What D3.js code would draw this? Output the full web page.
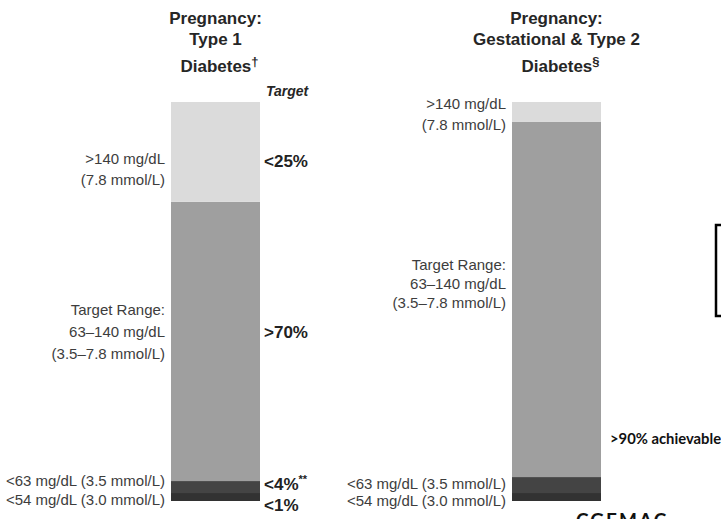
<!DOCTYPE html>
<head>
    <meta charset="utf-8">
</head>
<style>

    body {
      margin: 0;
      background: #fff;
      font-family: "Liberation Sans", Arial, sans-serif;
    }

    .title {
      font-size: 17px;
      font-weight: bold;
      fill: #262626;
      text-anchor: middle;
    }

    .band-label {
      font-size: 15px;
      fill: #3d3d3d;
      text-anchor: end;
    }

    .target {
      font-size: 17px;
      font-weight: bold;
      fill: #222;
    }

    .note {
      font-family: Lato, "Open Sans", sans-serif;
      font-size: 14.8px;
      font-weight: bold;
      fill: #111;
    }

</style>
<body>
<script src="https://d3js.org/d3.v7.min.js"></script>
<script>

    var width = 721,
        height = 519

    // the two stacked bars
    var bars = ["type1", "gestational"]
    var titles = [
        ["Pregnancy:", "Type 1", "Diabetes", "†"],
        ["Pregnancy:", "Gestational & Type 2", "Diabetes", "§"]
    ]

    // glucose bands, bottom to top
    var bands = ["<54", "54-63", "63-140", ">140"]
    var type1Values = [2, 3, 70, 25]
    var gestationalValues = [2, 4, 89, 5]

    // target column next to type 1 bar, bottom to top
    var type1Targets = ["<1%", "<4%", ">70%", "<25%"]

    var bandLabels = {
        high: [">140 mg/dL", "(7.8 mmol/L)"],
        range: ["Target Range:", "63–140 mg/dL", "(3.5–7.8 mmol/L)"],
        low: "<63 mg/dL (3.5 mmol/L)",
        veryLow: "<54 mg/dL (3.0 mmol/L)"
    }

    var x = d3.scaleBand()
        .domain(bars)
        .range([171, 601])
        .paddingInner(0.739)
        .paddingOuter(0)

    var y = d3.scaleLinear()
        .domain([0, 100])
        .range([501, 102])

    var color = d3.scaleOrdinal()
        .domain(bands)
        .range(["#323232", "#444444", "#9f9f9f", "#dbdbdb"])

    var svg = d3.select("body").append("svg")
        .attr("width", width)
        .attr("height", height)

    var stack = d3.stack().keys(bands)
    var rows = [type1Values, gestationalValues].map(function(v, i) {
        var row = {bar: bars[i]}
        bands.forEach(function(b, j) { row[b] = v[j] })
        return row
    })
    var series = stack(rows)

    // bars
    svg.append("g")
      .selectAll("g")
        .data(series)
      .enter().append("g")
        .attr("fill", function(d) { return color(d.key) })
      .selectAll("rect")
        .data(function(d) { return d })
      .enter().append("rect")
        .attr("x", function(d) { return x(d.data.bar) })
        .attr("width", x.bandwidth())
        .attr("y", function(d) { return y(d[1]) })
        .attr("height", function(d) { return y(d[0]) - y(d[1]) })

    // titles
    var titleBaselines = [24, 45, 72]
    bars.forEach(function(b, i) {
        var cx = x(b) + x.bandwidth() / 2
        var t = titles[i]
        svg.append("text").attr("class", "title").attr("x", cx).attr("y", titleBaselines[0]).text(t[0])
        svg.append("text").attr("class", "title").attr("x", cx).attr("y", titleBaselines[1]).text(t[1])
        var last = svg.append("text").attr("class", "title").attr("x", cx + 4).attr("y", titleBaselines[2])
        last.append("tspan").text(t[2])
        last.append("tspan").attr("dy", -6).style("font-size", "13px").text(t[3])
    })

    // band labels left of each bar
    function lines(xr, y0, arr, gap) {
        arr.forEach(function(s, k) {
            svg.append("text").attr("class", "band-label")
                .attr("x", xr).attr("y", y0 + k * gap).text(s)
        })
    }

    var xl1 = x(bars[0]) - 6,
        xl2 = x(bars[1]) - 6

    lines(xl1, 164, bandLabels.high, 21)
    lines(xl1, 315, bandLabels.range, 22)
    lines(xl1, 486, [bandLabels.low, bandLabels.veryLow], 19)

    lines(xl2, 109, bandLabels.high, 21)
    lines(xl2, 270, bandLabels.range, 19)
    lines(xl2, 489, [bandLabels.low, bandLabels.veryLow], 17)

    // target column
    var xt = x(bars[0]) + x.bandwidth() + 4
    svg.append("text")
        .attr("x", xt + 2)
        .attr("y", 96)
        .style("font-size", "14px")
        .style("font-weight", "bold")
        .style("font-style", "italic")
        .style("fill", "#262626")
        .text("Target")

    var targetY = [511, 490, 338, 167]
    type1Targets.forEach(function(s, i) {
        var t = svg.append("text").attr("class", "target")
            .attr("x", xt).attr("y", targetY[i])
        t.append("tspan").text(s)
        if (i === 1) {
            t.append("tspan").attr("dy", -7).style("font-size", "11px").text("**")
        }
    })

    svg.append("text").attr("class", "note")
        .attr("x", 610)
        .attr("y", 444)
        .text(">90% achievable")

    // box cut off at the right edge
    svg.append("path")
        .attr("d", "M730,225 H716 V316 H730")
        .attr("fill", "none")
        .attr("stroke", "#000")
        .attr("stroke-width", 2.5)

    // caption cut off at the bottom
    svg.append("text")
        .attr("x", 576)
        .attr("y", 527)
        .style("font-family", "Lato, sans-serif")
        .style("font-size", "19px")
        .style("font-weight", "bold")
        .style("letter-spacing", "2px")
        .style("fill", "#111")
        .text("CGEMAC")

</script>
</body>
